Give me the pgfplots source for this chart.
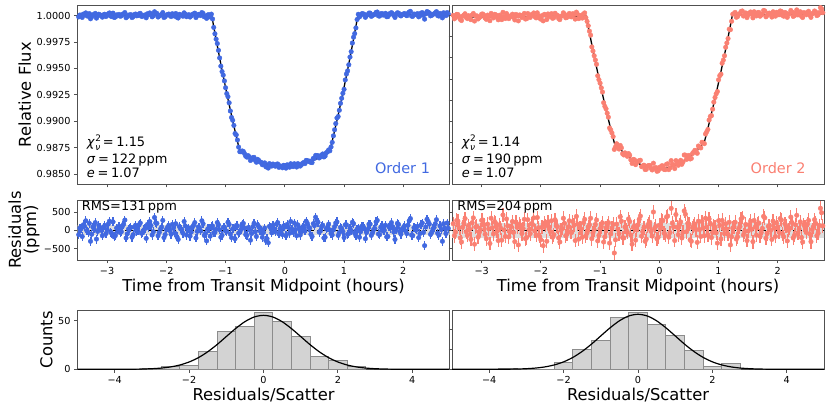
\documentclass[border=0pt]{standalone}
\usepackage{fontspec}
\setmainfont{DejaVu Sans}
\usepackage{pgfplots}
\usepackage{pgfplotstable}
\pgfplotsset{compat=1.18}
\definecolor{ob}{RGB}{65,105,225}
\definecolor{os}{RGB}{250,128,114}
\definecolor{fr}{RGB}{80,80,80}
\definecolor{hf}{RGB}{211,211,211}
\definecolor{he}{RGB}{140,140,140}
\definecolor{band}{RGB}{222,222,222}
\newcommand\tk{\fontsize{9.7}{11}\selectfont}
\newcommand\lab{\fontsize{16.4}{15.5}\selectfont}
\newcommand\ann{\fontsize{13}{15}\selectfont}
\newcommand\eq{\kern2.6bp=\kern2.6bp}
\newcommand\chinu[1]{\textit{χ}\kern0.3bp\rlap{\raisebox{0.42em}{\fontsize{9}{9}\selectfont 2}}\raisebox{-0.25em}{\fontsize{9}{9}\selectfont\textit{ν}}\eq #1}

\pgfplotstableread{
t f1 r1 f2 r2
-3.48 0.999880 -120 1.000031 180
-3.44 1.000041 40 0.999803 -50
-3.40 1.000152 150 1.000105 250
-3.36 1.000262 260 0.999647 -210
-3.32 0.999943 -60 0.999949 90
-3.28 0.999703 -300 1.000181 320
-3.24 1.000094 90 0.999723 -140
-3.20 1.000215 210 0.999895 30
-3.16 0.999975 -30 1.000077 210
-3.12 1.000076 70 0.999489 -380
-3.08 0.999856 -150 0.999981 110
-3.04 1.000137 130 0.999813 -60
-3.00 1.000028 20 1.000145 270
-2.96 1.000258 250 1.000027 150
-2.92 0.999919 -90 0.999649 -230
-2.88 0.999829 -180 0.999921 40
-2.84 1.000070 60 1.000213 330
-2.80 1.000121 110 0.999785 -100
-2.76 0.999971 -40 1.000077 190
-2.72 1.000182 170 0.999609 -280
-2.68 0.999802 -210 0.999951 60
-2.64 1.000043 30 1.000313 420
-2.60 1.000094 80 0.999725 -170
-2.56 0.999894 -120 1.000017 120
-2.52 1.000155 140 0.999879 -20
-2.48 1.000005 -10 1.000140 240
-2.44 1.000216 200 0.999592 -310
-2.40 0.999947 -70 0.999984 80
-2.36 1.000067 50 1.000066 160
-2.32 1.000178 160 0.999818 -90
-2.28 1.000258 240 1.000210 300
-2.24 0.999889 -130 0.999712 -200
-2.20 1.000370 350 0.999934 20
-2.16 1.000210 190 1.000096 180
-2.12 0.999961 -60 1.000258 340
-2.08 1.000111 90 0.999790 -130
-2.04 0.999822 -200 0.999992 70
-2.00 1.000043 20 0.999664 -260
-1.96 1.000153 130 0.999506 -420
-1.92 0.999914 -110 1.000058 130
-1.88 1.000084 60 1.000160 230
-1.84 1.000205 180 0.999892 -40
-1.80 0.999776 -250 0.999744 -190
-1.76 1.000066 40 1.000226 290
-1.72 0.999947 -80 1.000038 100
-1.68 1.000147 120 0.999620 -320
-1.64 1.000038 10 0.999992 50
-1.60 0.999869 -160 1.000134 190
-1.56 1.000119 90 0.999836 -110
-1.52 1.000240 210 1.000208 260
-1.48 1.000000 -30 0.999890 -60
-1.44 1.000101 70 1.000092 140
-1.40 1.000292 260 1.000334 380
-1.36 0.999892 -140 0.999716 -240
-1.32 0.999743 -290 0.999988 30
-1.28 1.000083 50 1.000170 210
-1.24 1.000144 110 0.999812 -150
-1.20 0.998885 -70 0.999044 90
-1.16 0.997775 30 0.998156 330
-1.12 0.996716 150 0.996648 -70
-1.08 0.995216 -190 0.995800 160
-1.04 0.994367 80 0.994302 -290
-1.00 0.993168 -20 0.993604 40
-0.96 0.992328 220 0.992766 200
-0.92 0.990969 -100 0.991408 -180
-0.88 0.990089 40 0.990760 120
-0.84 0.988830 -230 0.989362 -350
-0.80 0.988221 120 0.988884 60
-0.76 0.987111 -50 0.987326 -620
-0.72 0.987181 170 0.987862 170
-0.68 0.986929 60 0.987360 -90
-0.64 0.986595 -140 0.987474 250
-0.60 0.986630 20 0.986801 -210
-0.56 0.986402 -90 0.986822 10
-0.52 0.986573 190 0.986937 310
-0.48 0.986111 -170 0.986326 -130
-0.44 0.986289 100 0.986379 80
-0.40 0.986104 0 0.985886 -270
-0.36 0.985967 -60 0.986176 150
-0.32 0.985679 -280 0.986300 390
-0.28 0.985558 -340 0.985768 -40
-0.24 0.985916 70 0.985420 -300
-0.20 0.985942 140 0.985756 110
-0.16 0.985735 -30 0.985806 220
-0.12 0.985948 210 0.985379 -160
-0.08 0.985767 50 0.985557 50
-0.04 0.985586 -120 0.985258 -230
0.00 0.985793 90 0.985623 140
0.04 0.985867 160 0.985772 280
0.08 0.985640 -80 0.985435 -80
0.12 0.985771 30 0.985911 360
0.16 0.985970 200 0.985412 -190
0.20 0.985658 -150 0.986266 600
0.24 0.985913 60 0.985844 100
0.28 0.985867 -40 0.986266 430
0.32 0.986088 120 0.985822 -120
0.36 0.986288 250 0.986292 230
0.40 0.986196 80 0.986146 -50
0.44 0.986092 -110 0.986783 440
0.48 0.986476 180 0.986694 190
0.52 0.986758 360 0.986419 -260
0.56 0.986729 220 0.986938 70
0.60 0.986608 -20 0.987241 170
0.64 0.986894 140 0.986958 -330
0.68 0.986700 -190 0.987538 20
0.72 0.987102 70 0.988003 240
0.76 0.987194 10 0.987871 -150
0.80 0.987995 -130 0.988993 90
0.84 0.989185 100 0.990105 310
0.88 0.990306 230 0.990527 -200
0.92 0.991036 -60 0.991808 130
0.96 0.992177 40 0.992590 -70
1.00 0.993018 -200 0.993922 260
1.04 0.994468 150 0.994454 -240
1.08 0.995349 -90 0.995786 40
1.12 0.996589 -10 0.997008 180
1.16 0.997960 180 0.997830 -110
1.20 0.998841 -150 0.998672 -400
1.24 1.000131 60 1.000144 60
1.28 1.000032 -40 1.000306 220
1.32 1.000182 110 0.999908 -180
1.36 0.999843 -230 1.000190 100
1.40 1.000094 20 1.000442 350
1.44 1.000244 170 1.000054 -40
1.48 1.000005 -70 0.999816 -280
1.52 1.000125 50 1.000248 150
1.56 1.000346 270 1.000130 30
1.60 0.999957 -120 1.000372 270
1.64 1.000207 130 0.999974 -130
1.68 1.000078 0 1.000306 200
1.72 0.999898 -180 1.000048 -60
1.76 1.000169 90 1.000490 380
1.80 1.000290 210 0.999892 -220
1.84 1.000030 -50 1.000224 110
1.88 1.000111 30 1.000116 0
1.92 1.000241 160 1.000368 250
1.96 0.999972 -110 0.999950 -170
2.00 1.000153 70 1.000212 90
2.04 1.000063 -20 1.000444 320
2.08 1.000224 140 1.000026 -100
2.12 1.000404 320 1.000308 180
2.16 0.999935 -150 0.999840 -290
2.20 1.000126 40 1.000192 60
2.24 1.000196 110 1.000344 210
2.28 0.999997 -90 0.999996 -140
2.32 1.000287 200 1.000548 410
2.36 0.999668 -420 1.000170 30
2.40 1.000389 300 0.999942 -200
2.44 1.000259 170 1.000294 150
2.48 1.000030 -60 1.000086 -60
2.52 1.000170 80 1.000417 270
2.56 1.000381 290 0.999839 -310
2.60 0.999962 -130 1.000251 100
2.64 1.000112 20 1.000343 190
2.68 1.000273 180 1.000075 -80
2.72 1.000003 -90 1.000757 600
2.76 1.000144 50 1.000279 120
}\data

\pgfplotstableread{
t f1 r1 f2 r2
-3.46 1.000061 60 0.999702 -150
-3.42 0.999831 -170 1.000124 270
-3.38 1.000112 110 0.999916 60
-3.34 0.999982 -20 0.999538 -320
-3.30 1.000193 190 1.000060 200
-3.26 0.999894 -110 0.999822 -40
-3.22 1.000044 40 0.999994 130
-3.18 0.999765 -240 0.999616 -250
-3.14 1.000135 130 1.000208 340
-3.10 1.000006 0 0.999960 90
-3.06 1.000087 80 0.999682 -190
-3.02 0.999917 -90 0.999894 20
-2.98 1.000178 170 1.000156 280
-2.94 0.999958 -50 0.999768 -110
-2.90 1.000239 230 1.000050 170
-2.86 0.999870 -140 0.999522 -360
-2.82 1.000030 20 0.999954 70
-2.78 0.999951 -60 1.000126 240
-2.74 1.000131 120 0.999858 -30
-2.70 1.000292 280 1.000040 150
-2.66 0.999913 -100 0.999621 -270
-2.62 1.000063 50 0.999903 10
-2.58 0.999824 -190 1.000205 310
-2.54 1.000104 90 0.999717 -180
-2.50 0.999985 -30 0.999999 100
-2.46 1.000166 150 0.999841 -60
-2.42 0.999936 -80 1.000123 220
-2.38 1.000027 10 0.999505 -400
-2.34 0.999797 -220 1.000037 130
-2.30 1.000088 70 0.999959 50
-2.26 1.000149 130 0.999681 -230
-2.22 0.999979 -40 1.000203 290
-2.18 1.000220 200 0.999825 -90
-2.14 0.999870 -150 1.000077 160
-2.10 1.000051 30 0.999899 -20
-2.06 1.000292 270 1.000271 350
-2.02 0.999902 -120 0.999753 -170
-1.98 1.000103 80 1.000005 80
-1.94 1.000013 -10 1.000127 200
-1.90 1.000184 160 0.999629 -300
-1.86 0.999955 -70 0.999971 40
-1.82 0.999845 -180 1.000193 260
-1.78 1.000126 100 0.999815 -120
-1.74 1.000046 20 1.000057 120
-1.70 1.000267 240 0.999729 -210
-1.66 0.999898 -130 0.999941 0
-1.62 1.000088 60 1.000273 330
-1.58 0.999979 -50 0.999795 -150
-1.54 1.000169 140 1.000037 90
-1.50 0.999820 -210 0.999909 -40
-1.46 1.000121 90 1.000191 240
-1.42 1.000011 -20 0.999673 -280
-1.38 1.000212 180 1.000125 170
-1.34 0.999942 -90 1.000017 60
-1.30 1.000073 40 0.999769 -190
-1.26 0.999874 -160 1.000261 300
-1.22 0.999688 120 0.999457 -70
-1.18 0.998285 -60 0.998535 150
-1.14 0.997360 210 0.997040 -230
-1.10 0.995993 10 0.996200 20
-1.06 0.994703 -140 0.995395 280
-1.02 0.993818 90 0.993936 -140
-0.98 0.992614 -30 0.993163 100
-0.94 0.991744 160 0.991754 -320
-0.90 0.990353 -200 0.991172 60
-0.86 0.989600 50 0.990386 210
-0.82 0.988704 130 0.989165 -100
-0.78 0.987546 -80 0.988540 160
-0.74 0.987105 20 0.987557 -260
-0.70 0.987129 190 0.987600 30
-0.66 0.986682 -120 0.987706 370
-0.62 0.986741 70 0.986917 -200
-0.58 0.986280 -270 0.987001 90
-0.54 0.986536 100 0.986669 -50
-0.50 0.986291 -40 0.986781 240
-0.46 0.986385 150 0.985997 -380
-0.42 0.986135 -10 0.986347 120
-0.38 0.985874 -190 0.986100 10
-0.34 0.986051 60 0.986267 300
-0.30 0.985697 -230 0.985699 -160
-0.26 0.985981 110 0.985834 70
-0.22 0.985752 -70 0.985442 -240
-0.18 0.985812 30 0.985795 180
-0.14 0.985920 170 0.985532 -30
-0.10 0.985626 -100 0.986022 500
-0.06 0.985711 0 0.985607 110
-0.02 0.985823 120 0.985295 -190
0.02 0.985554 -150 0.985526 40
0.06 0.985792 80 0.985762 260
0.10 0.985969 240 0.985411 -120
0.14 0.985695 -60 0.985965 390
0.18 0.985807 20 0.985572 -60
0.22 0.985979 150 0.985903 200
0.26 0.985748 -130 0.985509 -280
0.30 0.986026 90 0.985968 80
0.34 0.985982 -20 0.986150 150
0.38 0.986265 190 0.985917 -210
0.42 0.986218 60 0.986798 530
0.46 0.986078 -170 0.986382 -40
0.50 0.986476 130 0.986760 170
0.54 0.986733 280 0.986472 -300
0.58 0.986517 -50 0.987078 110
0.62 0.986790 100 0.987198 20
0.66 0.986611 -210 0.987651 250
0.70 0.987000 40 0.987469 -170
0.74 0.987278 170 0.987950 60
0.78 0.987559 -90 0.988787 330
0.82 0.988609 10 0.989216 -130
0.86 0.989775 200 0.990451 190
0.90 0.990440 -140 0.991141 -60
0.94 0.991693 80 0.992247 80
0.98 0.992643 -30 0.992809 -350
1.02 0.993909 150 0.994316 140
1.06 0.994764 -110 0.995489 270
1.10 0.996076 60 0.996198 -90
1.14 0.997405 220 0.997412 30
1.18 0.998300 -80 0.998721 220
1.22 0.999635 30 0.999467 -180
1.26 0.999881 -190 1.000185 100
1.30 1.000182 110 0.999847 -240
1.34 1.000123 50 1.000129 40
1.38 1.000013 -60 1.000401 310
1.42 1.000244 170 0.999963 -130
1.46 0.999934 -140 1.000255 160
1.50 1.000095 20 1.000077 -20
1.54 1.000306 230 1.000349 250
1.58 0.999976 -100 0.999791 -310
1.62 1.000157 80 1.000193 90
1.66 1.000057 -20 1.000285 180
1.70 1.000218 140 0.999947 -160
1.74 0.999909 -170 1.000159 50
1.78 1.000139 60 1.000451 340
1.82 1.000180 100 1.000023 -90
1.86 0.999830 -250 1.000245 130
1.90 1.000271 190 0.999867 -250
1.94 1.000042 -40 1.000179 60
1.98 1.000112 30 1.000321 200
2.02 1.000203 120 1.000083 -40
2.06 0.999993 -90 1.000405 280
2.10 1.000344 260 0.999947 -180
2.14 0.999955 -130 1.000239 110
2.18 1.000155 70 1.000131 0
2.22 1.000096 10 1.000493 360
2.26 0.999886 -200 0.999925 -210
2.30 1.000237 150 1.000287 150
2.34 1.000028 -60 1.000069 -70
2.38 1.000178 90 1.000371 230
2.42 1.000329 240 0.999823 -320
2.46 0.999979 -110 1.000225 80
2.50 1.000130 40 1.000317 170
2.54 1.000271 180 1.000049 -100
2.58 1.000011 -80 1.000171 20
2.62 1.000212 120 1.000443 290
2.66 0.999792 -300 1.000005 -150
2.70 1.000153 60 1.000287 130
2.74 1.000294 200 1.000639 480
}\dataB

\pgfplotstableread{
t m1 m2
-3.50 1.000000 0.999850
-1.235 1.000034 0.999963
-1.20 0.998955 0.998954
-1.16 0.997745 0.997826
-1.12 0.996566 0.996718
-1.08 0.995406 0.995640
-1.04 0.994287 0.994592
-1.00 0.993188 0.993564
-0.96 0.992108 0.992566
-0.92 0.991069 0.991588
-0.88 0.990049 0.990640
-0.84 0.989060 0.989712
-0.80 0.988101 0.988824
-0.76 0.987161 0.987946
-0.72 0.987011 0.987692
-0.68 0.986869 0.987450
-0.64 0.986735 0.987224
-0.60 0.986610 0.987011
-0.56 0.986492 0.986812
-0.52 0.986383 0.986627
-0.48 0.986281 0.986456
-0.44 0.986189 0.986299
-0.40 0.986104 0.986156
-0.36 0.986027 0.986026
-0.32 0.985959 0.985910
-0.28 0.985898 0.985808
-0.24 0.985846 0.985720
-0.20 0.985802 0.985646
-0.16 0.985765 0.985586
-0.12 0.985738 0.985539
-0.08 0.985717 0.985507
-0.04 0.985706 0.985488
0.00 0.985703 0.985483
0.04 0.985707 0.985492
0.08 0.985720 0.985515
0.12 0.985741 0.985551
0.16 0.985770 0.985602
0.20 0.985808 0.985666
0.24 0.985853 0.985744
0.28 0.985907 0.985836
0.32 0.985968 0.985942
0.36 0.986038 0.986062
0.40 0.986116 0.986196
0.44 0.986202 0.986343
0.48 0.986296 0.986504
0.52 0.986398 0.986679
0.56 0.986509 0.986868
0.60 0.986628 0.987071
0.64 0.986754 0.987288
0.68 0.986890 0.987518
0.72 0.987032 0.987763
0.76 0.987184 0.988021
0.80 0.988125 0.988903
0.84 0.989085 0.989795
0.88 0.990076 0.990727
0.92 0.991096 0.991678
0.96 0.992137 0.992660
1.00 0.993218 0.993662
1.04 0.994318 0.994694
1.08 0.995439 0.995746
1.12 0.996599 0.996828
1.16 0.997780 0.997940
1.20 0.998991 0.999072
1.235 1.000071 1.000084
2.78 1.000094 1.000159
}\model

\pgfplotsset{
  base/.style={scale only axis, width=372bp, anchor=south west,
    axis line style={fr, line width=0.9bp},
    tick align=outside, major tick length=3.5bp,
    every tick/.style={fr, line width=0.9bp},
    tick pos=left,
    tick label style={font=\tk, text=black},
    /pgf/number format/assume math mode=true,
    label style={font=\lab}},
  top/.style={base, height=179bp, xmin=-3.5, xmax=2.78, ymin=0.98405, ymax=1.00101,
    xtick={-3,-2,-1,0,1,2}, xticklabels={}},
  res/.style={base, height=60bp, xmin=-3.5, xmax=2.78, ymin=-812, ymax=828,
    xtick={-3,-2,-1,0,1,2}, xticklabels={−3,−2,−1,0,1,2}, ytick={-500,0,500},
    xlabel={Time from Transit Midpoint (hours)},
    xlabel style={at={(axis description cs:0.5,0)}, anchor=base, yshift=-31.3bp}},
  hist/.style={base, height=59.3bp, xmin=-5, xmax=5, ymin=0,
    xtick={-4,-2,0,2,4}, xticklabels={−4,−2,0,2,4},
    xlabel={Residuals/Scatter},
    xlabel style={at={(axis description cs:0.5,0)}, anchor=base, yshift=-31.4bp}},
  pts/.style={only marks, mark=*, mark size=2.3bp, mark options={draw=none}},
}

\begin{document}
\begin{tikzpicture}
\path[use as bounding box] (0,0) rectangle (830bp,411bp);

% ---------- top left ----------
\begin{axis}[top, at={(77.5bp,227bp)},
  ytick={0.985,0.9875,0.99,0.9925,0.995,0.9975,1.0},
  yticklabels={0.9850,0.9875,0.9900,0.9925,0.9950,0.9975,1.0000},
  ylabel={Relative Flux},
  ylabel style={at={(axis description cs:-0.125,0.5)}, anchor=base, rotate=0}]
\addplot[pts, color=ob] table[x=t, y=f1] {\data};
\addplot[pts, color=ob] table[x=t, y=f1] {\dataB};
\addplot[black, line width=1.3bp] table[x=t, y=m1] {\model};
\node[anchor=base west, inner sep=0, font=\ann] at (rel axis cs:0.025,0.208) {\chinu{1.15}};
\node[anchor=base west, inner sep=0, font=\ann] at (rel axis cs:0.025,0.116) {\textit{σ}\eq 122\,ppm};
\node[anchor=base west, inner sep=0, font=\ann] at (rel axis cs:0.025,0.035) {\textit{e}\eq 1.07};
\node[anchor=base east, inner sep=0, font=\fontsize{14.5}{16}\selectfont, text=ob] at (rel axis cs:0.948,0.056) {Order 1};
\end{axis}

% ---------- top right ----------
\begin{axis}[top, at={(452bp,227bp)},
  ytick={0.986,0.988,0.990,0.992,0.994,0.996,0.998,1.000}, yticklabels={}]
\addplot[pts, color=os] table[x=t, y=f2] {\data};
\addplot[pts, color=os] table[x=t, y=f2] {\dataB};
\addplot[black, line width=1.3bp] table[x=t, y=m2] {\model};
\node[anchor=base west, inner sep=0, font=\ann] at (rel axis cs:0.026,0.208) {\chinu{1.14}};
\node[anchor=base west, inner sep=0, font=\ann] at (rel axis cs:0.026,0.116) {\textit{σ}\eq 190\,ppm};
\node[anchor=base west, inner sep=0, font=\ann] at (rel axis cs:0.026,0.035) {\textit{e}\eq 1.07};
\node[anchor=base east, inner sep=0, font=\fontsize{14.5}{16}\selectfont, text=os] at (rel axis cs:0.951,0.056) {Order 2};
\end{axis}

% ---------- residuals left ----------
\begin{axis}[res, at={(77.5bp,151bp)},
  yticklabels={−500,0,500},
  ylabel={Residuals\\(ppm)},
  ylabel style={at={(axis description cs:-0.1438,0.5)}, anchor=center, align=center}]
\addplot[draw=none, fill=band] coordinates {(-3.6,-131) (2.9,-131) (2.9,131) (-3.6,131)} -- cycle;
\addplot[black, dashed, line width=0.8bp] coordinates {(-3.6,0) (2.9,0)};
\addplot[pts, color=ob, error bars/.cd, y dir=both, y fixed=122,
  error bar style={line width=1.2bp, ob}, error mark=none] table[x=t, y=r1] {\data};
\addplot[pts, color=ob, error bars/.cd, y dir=both, y fixed=122,
  error bar style={line width=1.2bp, ob}, error mark=none] table[x=t, y=r1] {\dataB};
\node[anchor=base west, inner sep=0, font=\ann] at (rel axis cs:0.011,0.82) {RMS=131\,ppm};
\end{axis}

% ---------- residuals right ----------
\begin{axis}[res, at={(452bp,151bp)}, yticklabels={}]
\addplot[draw=none, fill=band] coordinates {(-3.6,-204) (2.9,-204) (2.9,204) (-3.6,204)} -- cycle;
\addplot[black, dashed, line width=0.8bp] coordinates {(-3.6,0) (2.9,0)};
\addplot[pts, color=os, error bars/.cd, y dir=both, y fixed=190,
  error bar style={line width=1.2bp, os}, error mark=none] table[x=t, y=r2] {\data};
\addplot[pts, color=os, error bars/.cd, y dir=both, y fixed=190,
  error bar style={line width=1.2bp, os}, error mark=none] table[x=t, y=r2] {\dataB};
\node[anchor=base west, inner sep=0, font=\ann] at (rel axis cs:0.014,0.82) {RMS=204\,ppm};
\end{axis}

% ---------- histogram left ----------
\begin{axis}[hist, at={(77.5bp,41.7bp)}, ymax=61, ytick={0,50}, yticklabels={0,50},
  ylabel={Counts},
  ylabel style={at={(axis description cs:-0.0677,0.5)}, anchor=base, rotate=0}]
\addplot[ybar interval, fill=hf, draw=he, line width=0.9bp] coordinates {
(-3.25,1) (-2.75,3) (-2.25,4) (-1.75,18) (-1.25,39) (-0.75,44) (-0.25,58)
(0.25,49) (0.75,34) (1.25,13) (1.75,9) (2.25,3) (2.75,0)};
\addplot[black, line width=1.2bp, smooth] coordinates {
(-5,0) (-4,0.02) (-3.5,0.12) (-3.25,0.28) (-3,0.62) (-2.75,1.26) (-2.5,2.44)
(-2.25,4.42) (-2,7.51) (-1.75,12.0) (-1.5,18.0) (-1.25,25.4) (-1,33.7)
(-0.75,41.9) (-0.5,49.0) (-0.25,53.8) (0,55.5) (0.25,53.8) (0.5,49.0)
(0.75,41.9) (1,33.7) (1.25,25.4) (1.5,18.0) (1.75,12.0) (2,7.51) (2.25,4.42)
(2.5,2.44) (2.75,1.26) (3,0.62) (3.25,0.28) (3.5,0.12) (4,0.02) (5,0)};
\end{axis}

% ---------- histogram right ----------
\begin{axis}[hist, at={(452bp,41.7bp)}, ymax=59.3, ytick={0,20,40}, yticklabels={}]
\addplot[ybar interval, fill=hf, draw=he, line width=0.9bp] coordinates {
(-3.75,1) (-3.25,0) (-2.75,0) (-2.25,7) (-1.75,20) (-1.25,29) (-0.75,52) (-0.25,57)
(0.25,45) (0.75,34) (1.25,19) (1.75,3) (2.25,6) (2.75,0)};
\addplot[black, line width=1.2bp, smooth] coordinates {
(-5,0) (-4,0.02) (-3.5,0.12) (-3.25,0.28) (-3,0.61) (-2.75,1.25) (-2.5,2.42)
(-2.25,4.38) (-2,7.44) (-1.75,11.9) (-1.5,17.9) (-1.25,25.2) (-1,33.4)
(-0.75,41.5) (-0.5,48.5) (-0.25,53.3) (0,55.0) (0.25,53.3) (0.5,48.5)
(0.75,41.5) (1,33.4) (1.25,25.2) (1.5,17.9) (1.75,11.9) (2,7.44) (2.25,4.38)
(2.5,2.42) (2.75,1.25) (3,0.61) (3.25,0.28) (3.5,0.12) (4,0.02) (5,0)};
\end{axis}
\end{tikzpicture}
\end{document}
